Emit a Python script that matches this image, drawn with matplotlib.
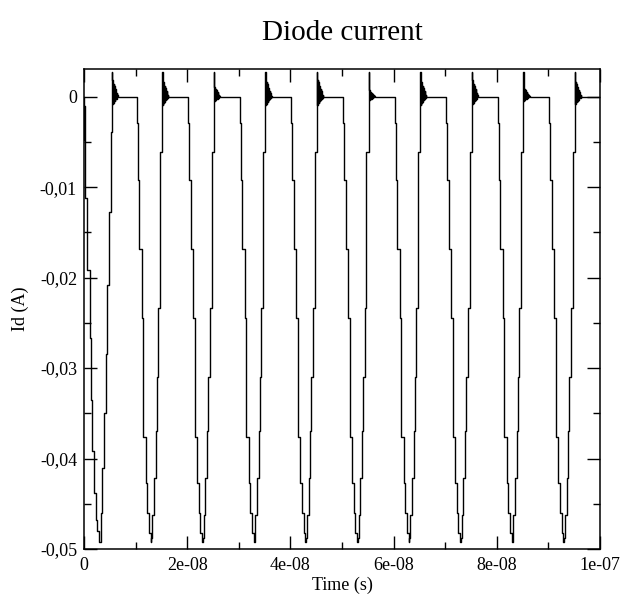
import numpy as np
import matplotlib
matplotlib.use("Agg")
import matplotlib.pyplot as plt
from matplotlib.ticker import MultipleLocator, FixedLocator, FixedFormatter

# first dip starts right at t = 0 (times in ns, current in A)
first_t = [0.0, 0.02, 0.05, 0.08, 0.11, 0.14, 0.25, 0.64, 1.09, 1.36, 1.61, 1.94, 2.27,
           2.58, 2.97, 3.24, 3.55, 3.88, 4.26, 4.52, 4.84, 5.17, 5.39]
first_i = [-0.0048, -0.0005, -0.0048, -0.001, -0.0046, -0.0048, -0.0112, -0.0192, -0.0267,
           -0.0335, -0.0392, -0.0438, -0.0468, -0.048, -0.0492, -0.046, -0.041, -0.035,
           -0.0284, -0.0208, -0.0127, -0.0039, 0.0027]

# shape of the following dips, time relative to start of the fall (ns)
dip_t = [0.0, 0.19, 0.50, 0.97, 1.28, 1.74, 2.05, 2.38, 2.71, 2.85, 3.02, 3.35, 3.68, 3.88,
         4.19, 4.52, 4.96]
dip_i = [-0.0029, -0.0092, -0.0168, -0.0245, -0.0376, -0.0427, -0.046, -0.0482, -0.0492,
         -0.0488, -0.0462, -0.0422, -0.037, -0.031, -0.0234, -0.0061, 0.0027]
dip_start = [10.2, 20.2, 30.2, 40.2, 50.2, 60.2, 70.2, 80.2, 90.2]

# ringing after each turn-off
ring_dt = [0.06, 0.12, 0.18, 0.24, 0.30, 0.36, 0.42, 0.48, 0.54, 0.60, 0.66, 0.72,
           0.78, 0.84, 0.90, 0.96, 1.02, 1.08, 1.14, 1.20]
ring_i = [-0.0009, 0.0018, -0.0008, 0.0016, -0.0007, 0.0014, -0.0006, 0.0012, -0.0005,
          0.0010, -0.0004, 0.0008, -0.0003, 0.0006, -0.0002, 0.0004, -0.0001, 0.0002,
          0.0001, 0.0]
ring_scale = [1.0, 1.0, 0.6, 1.0, 1.0, 0.4, 1.0, 1.0, 0.5, 0.9]

xticks = [0, 2e-8, 4e-8, 6e-8, 8e-8, 1e-7]
xlabels = ["0", "2e-08", "4e-08", "6e-08", "8e-08", "1e-07"]
yticks = [0, -0.01, -0.02, -0.03, -0.04, -0.05]
ylabels = ["0", "-0,01", "-0,02", "-0,03", "-0,04", "-0,05"]

t = [-0.01]
cur = [0.0]
t += first_t
cur += first_i
t += [first_t[-1] + d for d in ring_dt]
cur += [r * ring_scale[0] for r in ring_i]
for k, s in enumerate(dip_start):
    t += [s + d for d in dip_t]
    cur += dip_i
    t += [s + dip_t[-1] + d for d in ring_dt]
    cur += [r * ring_scale[k + 1] for r in ring_i]
t.append(100.0)
cur.append(0.0)
t = np.array(t) * 1e-9

plt.rcParams['font.family'] = ['Liberation Serif', 'DejaVu Serif']

fig = plt.figure(figsize=(6.22, 5.97), dpi=100)
ax = fig.add_axes([0.135, 0.0804, 0.8296, 0.804])
ax.plot(t, cur, color="black", lw=1.0, drawstyle="steps-post")

ax.set_xlim(0, 1e-7)
ax.set_ylim(-0.05, 0.00306)
ax.xaxis.set_major_locator(FixedLocator(xticks))
ax.xaxis.set_major_formatter(FixedFormatter(xlabels))
ax.xaxis.set_minor_locator(MultipleLocator(1e-8))
ax.yaxis.set_major_locator(FixedLocator(yticks))
ax.yaxis.set_major_formatter(FixedFormatter(ylabels))
ax.yaxis.set_minor_locator(MultipleLocator(0.005))
ax.tick_params(which="both", direction="in", top=True, right=True, width=1.0,
               labelsize=13)
ax.tick_params(axis="x", pad=6)
ax.tick_params(axis="y", pad=5)
ax.tick_params(which="major", length=9.5)
ax.tick_params(which="minor", length=5)
for sp in ax.spines.values():
    sp.set_linewidth(1.1)

ax.set_xlabel("Time (s)", fontsize=13, labelpad=2)
ax.set_ylabel("Id (A)", fontsize=13, labelpad=8)
ax.set_title("Diode current", fontsize=21, pad=21)

fig.savefig("out.png", dpi=100)
